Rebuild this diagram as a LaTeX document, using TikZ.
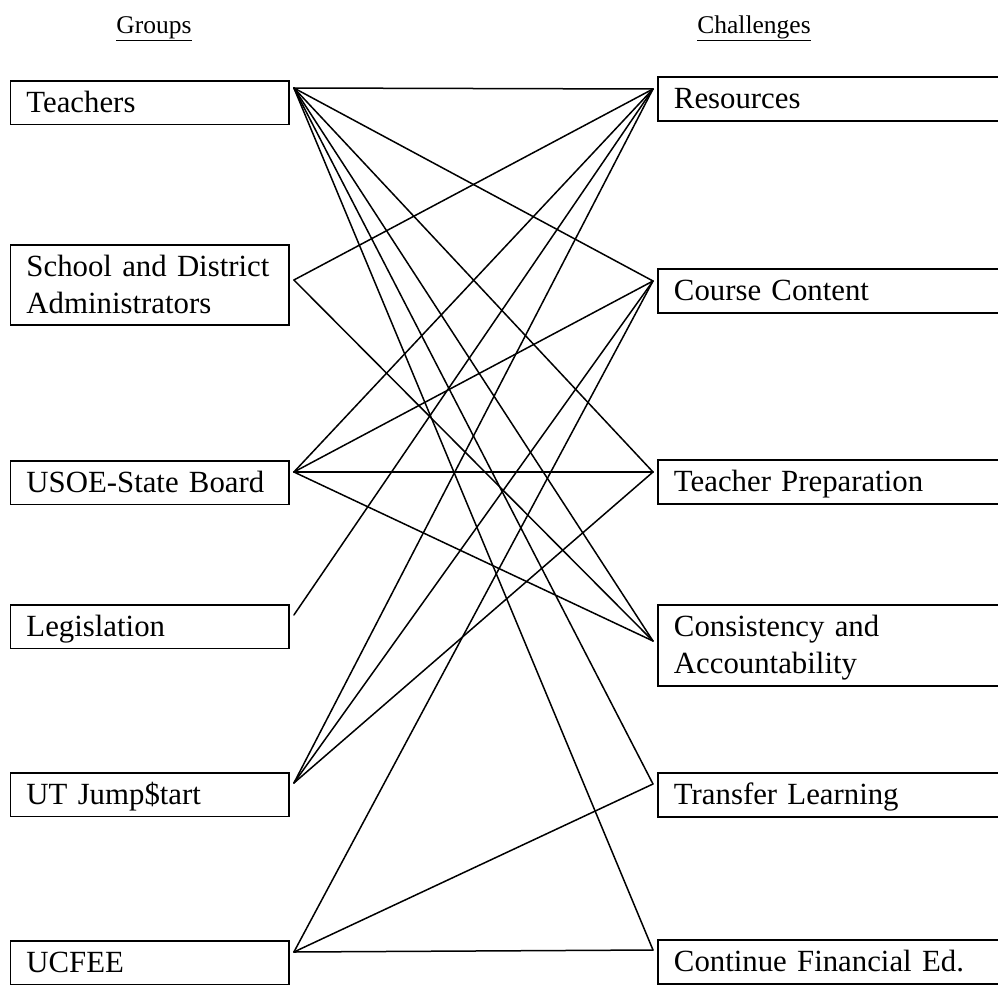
\documentclass[tikz,border=0pt]{standalone}
\usepackage{fontspec}
\setmainfont{Liberation Serif}
\usetikzlibrary{calc}
\hyphenpenalty=10000
\begin{document}
\begin{tikzpicture}[x=1pt,y=-1pt,
  box/.style={draw, line width=1.9pt, rectangle, anchor=north west,
    inner xsep=16pt, inner ysep=0pt, align=left, text height=32pt,
    text depth=#1, font=\fontsize{30.8}{37}\selectfont},
  groupbox/.style={box=#1, text width=246.5pt},
  challbox/.style={box=#1, text width=313pt},
  head/.style={anchor=base, font=\fontsize{25.5}{30}\selectfont},
  link/.style={line width=1.5pt, line cap=round}]
\useasboundingbox (0,0) rectangle (998,985);

% column headings
\node[head] (hg) at (154,33) {\underline{Groups}};
\node[head] (hc) at (754,33) {\underline{Challenges}};

% groups
\node[groupbox=11.5pt] (teach)  at (9.5,80)  {Teachers};
\node[groupbox=48pt]   (admin)  at (9.5,244) {School and District\\Administrators};
\node[groupbox=11.5pt] (usoe)   at (9.5,460) {USOE-State Board};
\node[groupbox=11.5pt] (legis)  at (9.5,604) {Legislation};
\node[groupbox=11.5pt] (jump)   at (9.5,772) {UT Jump\$tart};
\node[groupbox=11.5pt] (ucfee)  at (9.5,940) {UCFEE};

% challenges
\node[challbox=12pt]   (res)      at (657,76)  {Resources};
\node[challbox=12pt]   (course)   at (657,268) {Course Content};
\node[challbox=12pt]   (prep)     at (657,459) {Teacher Preparation};
\node[challbox=49pt]   (consist)  at (657,604) {Consistency and\\Accountability};
\node[challbox=12pt]   (transfer) at (657,772) {Transfer Learning};
\node[challbox=12pt]   (cont)     at (657,939) {Continue Financial Ed.};

% attachment points beside the boxes
\coordinate (pteach) at ($(teach.north east)+(4,8)$);
\coordinate (padmin) at ($(admin.north east)+(4,36)$);
\coordinate (pusoe)  at ($(usoe.north east)+(4,12)$);
\coordinate (plegis) at ($(legis.north east)+(4,11)$);
\coordinate (pjump)  at ($(jump.north east)+(4,11)$);
\coordinate (pucfee) at ($(ucfee.north east)+(4,12)$);

\coordinate (pres)      at ($(res.north west)+(-4,13)$);
\coordinate (pcourse)   at ($(course.north west)+(-4,13)$);
\coordinate (pprep)     at ($(prep.north west)+(-4,13)$);
\coordinate (pconsist)  at ($(consist.north west)+(-4,37)$);
\coordinate (ptransfer) at ($(transfer.north west)+(-4,12)$);
\coordinate (pcont)     at ($(cont.north west)+(-4,11)$);

% connections
\foreach \c in {pres,pcourse,pprep,pconsist,ptransfer,pcont}
  \draw[link] (pteach) -- (\c);
\foreach \c in {pres,pconsist}
  \draw[link] (padmin) -- (\c);
\foreach \c in {pres,pcourse,pprep,pconsist}
  \draw[link] (pusoe) -- (\c);
\draw[link] (plegis) -- (pres);
\foreach \c in {pres,pcourse,pprep}
  \draw[link] (pjump) -- (\c);
\foreach \c in {pcourse,ptransfer,pcont}
  \draw[link] (pucfee) -- (\c);
\end{tikzpicture}
\end{document}
